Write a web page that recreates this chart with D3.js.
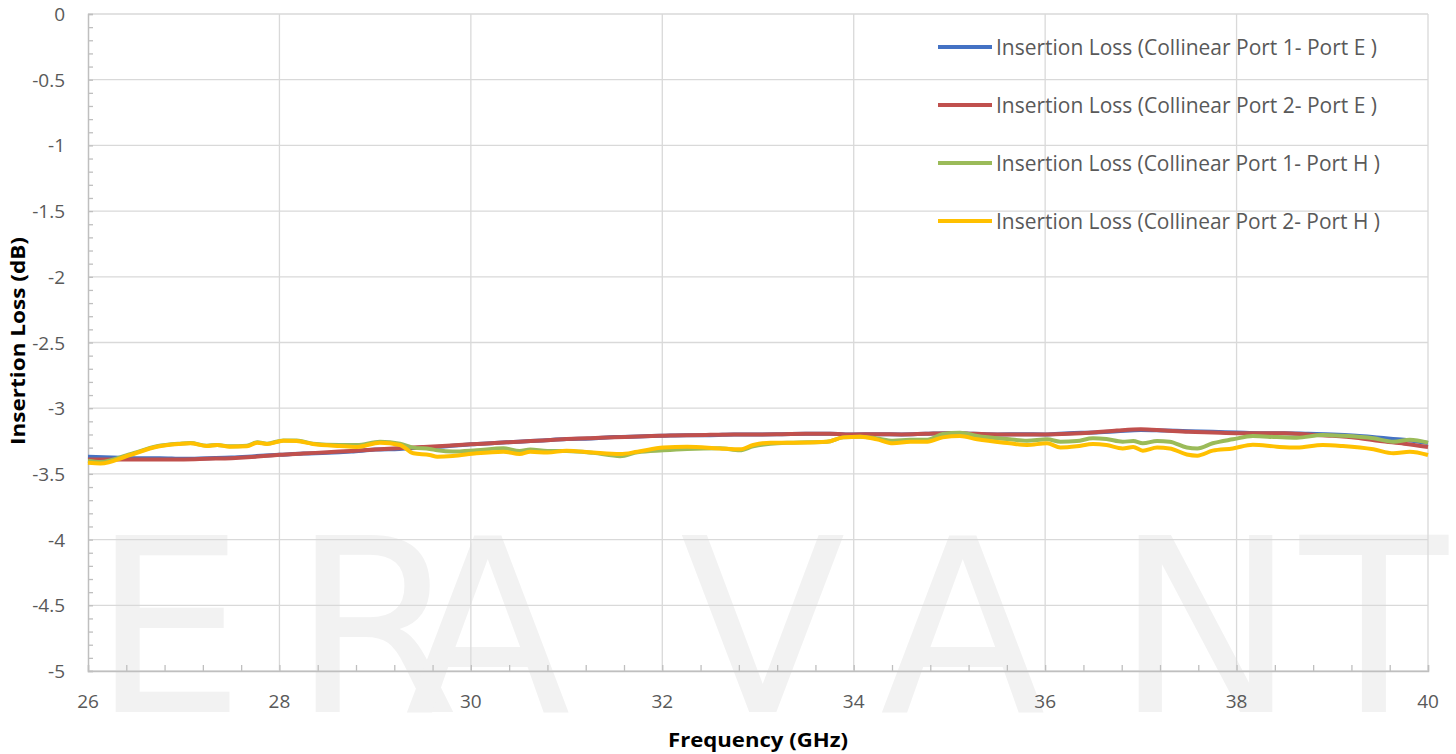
<!DOCTYPE html>
<html>
<head>
<meta charset="utf-8">
<script src="https://cdn.jsdelivr.net/npm/d3@7"></script>
<style>
  body { margin: 0; background: #fff; }
  text { font-family: "Open Sans", sans-serif; }
</style>
</head>
<body>
<svg id="chart" width="1456" height="754"></svg>
<script>
// frequency grid for the E-port curves (GHz)
var freqE = [26, 26.25, 26.5, 26.75, 27, 27.25, 27.5, 27.75, 28, 28.25, 28.5, 28.75, 29, 29.25, 29.5, 29.75,
  30, 30.25, 30.5, 30.75, 31, 31.25, 31.5, 31.75, 32, 32.25, 32.5, 32.75, 33, 33.25, 33.5, 33.75,
  34, 34.25, 34.5, 34.75, 35, 35.25, 35.5, 35.75, 36, 36.25, 36.5, 36.75, 37, 37.25, 37.5, 37.75,
  38, 38.25, 38.5, 38.75, 39, 39.25, 39.5, 39.75, 40];

var port1E = [-3.37, -3.375, -3.38, -3.38, -3.385, -3.38, -3.375, -3.365, -3.355, -3.345, -3.34, -3.33, -3.315, -3.31, -3.30, -3.29,
  -3.275, -3.265, -3.255, -3.245, -3.235, -3.23, -3.22, -3.215, -3.21, -3.205, -3.205, -3.20, -3.20, -3.198, -3.195, -3.195,
  -3.20, -3.198, -3.20, -3.195, -3.19, -3.195, -3.20, -3.198, -3.20, -3.19, -3.185, -3.175, -3.165, -3.17, -3.175, -3.18,
  -3.185, -3.19, -3.19, -3.195, -3.20, -3.21, -3.225, -3.24, -3.265];

var port2E = [-3.39, -3.39, -3.39, -3.39, -3.39, -3.385, -3.38, -3.37, -3.355, -3.345, -3.335, -3.325, -3.315, -3.305, -3.295, -3.285,
  -3.275, -3.265, -3.255, -3.245, -3.235, -3.228, -3.222, -3.215, -3.21, -3.205, -3.203, -3.20, -3.20, -3.198, -3.195, -3.195,
  -3.20, -3.198, -3.20, -3.195, -3.19, -3.195, -3.20, -3.20, -3.20, -3.195, -3.185, -3.17, -3.16, -3.17, -3.18, -3.185,
  -3.19, -3.19, -3.19, -3.20, -3.21, -3.225, -3.25, -3.27, -3.295];

// frequency grid for the H-port curves (GHz)
var freqH = [26, 26.13, 26.44, 26.72, 26.96, 27.07, 27.24, 27.35, 27.48, 27.66, 27.77, 27.87, 28.04, 28.18, 28.35, 28.63,
  28.81, 29.05, 29.26, 29.4, 29.57, 29.65, 29.81, 30.06, 30.34, 30.51, 30.62, 30.8, 31, 31.28, 31.56, 31.74,
  32.01, 32.26, 32.6, 32.81, 32.95, 33.13, 33.37, 33.72, 33.89, 34.07, 34.24, 34.41, 34.59, 34.77, 34.93, 35.11,
  35.29, 35.63, 35.81, 36.02, 36.16, 36.33, 36.5, 36.64, 36.81, 36.92, 37.02, 37.17, 37.3, 37.48, 37.59, 37.75,
  37.96, 38.17, 38.42, 38.63, 38.9, 39.11, 39.43, 39.64, 39.81, 40];

var port1H = [-3.40, -3.41, -3.35, -3.29, -3.27, -3.265, -3.285, -3.28, -3.29, -3.285, -3.26, -3.27, -3.245, -3.245, -3.27, -3.28,
  -3.28, -3.255, -3.27, -3.30, -3.31, -3.32, -3.33, -3.32, -3.305, -3.325, -3.315, -3.325, -3.325, -3.34, -3.365, -3.335,
  -3.32, -3.31, -3.305, -3.32, -3.29, -3.27, -3.262, -3.255, -3.222, -3.217, -3.23, -3.247, -3.24, -3.24, -3.196, -3.186,
  -3.212, -3.237, -3.247, -3.237, -3.255, -3.25, -3.229, -3.235, -3.255, -3.25, -3.267, -3.25, -3.255, -3.299, -3.306, -3.267,
  -3.237, -3.212, -3.22, -3.225, -3.204, -3.21, -3.229, -3.255, -3.24, -3.262];

var port2H = [-3.415, -3.42, -3.356, -3.293, -3.272, -3.267, -3.288, -3.28, -3.293, -3.29, -3.262, -3.272, -3.247, -3.25, -3.272, -3.288,
  -3.295, -3.262, -3.28, -3.343, -3.356, -3.369, -3.364, -3.343, -3.331, -3.349, -3.331, -3.338, -3.323, -3.338, -3.349, -3.331,
  -3.299, -3.293, -3.306, -3.313, -3.28, -3.262, -3.262, -3.255, -3.222, -3.217, -3.237, -3.267, -3.255, -3.255, -3.222, -3.212,
  -3.237, -3.267, -3.28, -3.267, -3.299, -3.29, -3.272, -3.28, -3.306, -3.295, -3.323, -3.30, -3.306, -3.352, -3.361, -3.323,
  -3.306, -3.278, -3.293, -3.30, -3.28, -3.288, -3.313, -3.343, -3.331, -3.356];

var seriesNames = ["Insertion Loss (Collinear Port 1- Port E )", "Insertion Loss (Collinear Port 2- Port E )",
  "Insertion Loss (Collinear Port 1- Port H )", "Insertion Loss (Collinear Port 2- Port H )"];
var seriesColors = ["#4472C4", "#C0504D", "#9BBB59", "#FFC000"];

var xTicks = [26, 28, 30, 32, 34, 36, 38, 40];
var yTicks = [0, -0.5, -1, -1.5, -2, -2.5, -3, -3.5, -4, -4.5, -5];

var series = [
  { name: seriesNames[0], color: seriesColors[0], x: freqE, y: port1E },
  { name: seriesNames[1], color: seriesColors[1], x: freqE, y: port2E },
  { name: seriesNames[2], color: seriesColors[2], x: freqH, y: port1H },
  { name: seriesNames[3], color: seriesColors[3], x: freqH, y: port2H }
];

var svg = d3.select("#chart");
var plotLeft = 88, plotRight = 1428, plotTop = 14, plotBottom = 671;

var x = d3.scaleLinear().domain([26, 40]).range([plotLeft, plotRight]);
var y = d3.scaleLinear().domain([-5, 0]).range([plotBottom, plotTop]);

// watermark logo letters behind everything
var mark = ["E", "R", "A", "V", "A", "N", "T"];
var markX = [92, 292, 405, 680, 880, 1115, 1300];
svg.append("g").selectAll("text").data(mark).enter().append("text")
  .attr("x", function(d, i) { return markX[i]; })
  .attr("y", 712)
  .style("font-family", "DejaVu Sans")
  .style("font-size", "242px")
  .style("fill", "#f2f2f2")
  .text(function(d) { return d; });

// gridlines
svg.append("g").selectAll("line").data(yTicks).enter().append("line")
  .attr("x1", plotLeft).attr("x2", plotRight)
  .attr("y1", function(d) { return y(d); }).attr("y2", function(d) { return y(d); })
  .style("stroke", "#d9d9d9").style("stroke-width", 1.3);
svg.append("g").selectAll("line").data(xTicks.slice(1)).enter().append("line")
  .attr("y1", plotTop).attr("y2", plotBottom)
  .attr("x1", function(d) { return x(d); }).attr("x2", function(d) { return x(d); })
  .style("stroke", "#d9d9d9").style("stroke-width", 1.3);

// axes with minor ticks drawn inward
var xAxis = svg.append("g").attr("transform", "translate(0," + plotBottom + ")")
  .call(d3.axisTop(x).tickValues(d3.range(26, 40.01, 0.4)).tickSize(6).tickFormat(""));
var yAxis = svg.append("g").attr("transform", "translate(" + plotLeft + ",0)")
  .call(d3.axisRight(y).tickValues(d3.range(-5, 0.01, 0.1)).tickSize(5).tickFormat(""));
[xAxis, yAxis].forEach(function(a) {
  a.select(".domain").style("stroke", "#bfbfbf").style("stroke-width", 1.5);
  a.selectAll(".tick line").style("stroke", "#bfbfbf").style("stroke-width", 1.3);
});

// tick labels
svg.append("g").selectAll("text").data(xTicks).enter().append("text")
  .attr("x", function(d) { return x(d); }).attr("y", 708)
  .attr("text-anchor", "middle")
  .style("font-size", "19px").style("fill", "#595959")
  .text(function(d) { return d; });
svg.append("g").selectAll("text").data(yTicks).enter().append("text")
  .attr("x", 65).attr("y", function(d) { return y(d) + 7; })
  .attr("text-anchor", "end")
  .style("font-size", "19px").style("fill", "#595959")
  .text(function(d) { return d; });

// axis titles
svg.append("text")
  .attr("x", 758).attr("y", 747)
  .attr("text-anchor", "middle")
  .attr("textLength", 180).attr("lengthAdjust", "spacingAndGlyphs")
  .style("font-size", "20px").style("font-weight", "bold").style("fill", "#000")
  .text("Frequency (GHz)");
svg.append("text")
  .attr("transform", "translate(25,341) rotate(-90)")
  .attr("text-anchor", "middle")
  .attr("textLength", 208).attr("lengthAdjust", "spacingAndGlyphs")
  .style("font-size", "20px").style("font-weight", "bold").style("fill", "#000")
  .text("Insertion Loss (dB)");

// the curves
var line = d3.line()
  .x(function(d) { return x(d[0]); })
  .y(function(d) { return y(d[1]); })
  .curve(d3.curveMonotoneX);

svg.append("g").selectAll("path").data(series).enter().append("path")
  .attr("d", function(s) { return line(d3.zip(s.x, s.y)); })
  .style("fill", "none")
  .style("stroke", function(s) { return s.color; })
  .style("stroke-width", 4)
  .style("stroke-linejoin", "round");

// legend
var legend = svg.append("g").selectAll("g").data(series).enter().append("g")
  .attr("transform", function(d, i) { return "translate(938," + (47 + i * 58) + ")"; });
legend.append("line")
  .attr("x1", 0).attr("x2", 54)
  .style("stroke", function(d) { return d.color; })
  .style("stroke-width", 4);
legend.append("text")
  .attr("x", 58).attr("y", 8)
  .attr("textLength", function(d, i) { return i < 2 ? 381 : 384; })
  .attr("lengthAdjust", "spacingAndGlyphs")
  .style("font-size", "22px").style("fill", "#595959")
  .text(function(d) { return d.name; });
</script>
</body>
</html>
